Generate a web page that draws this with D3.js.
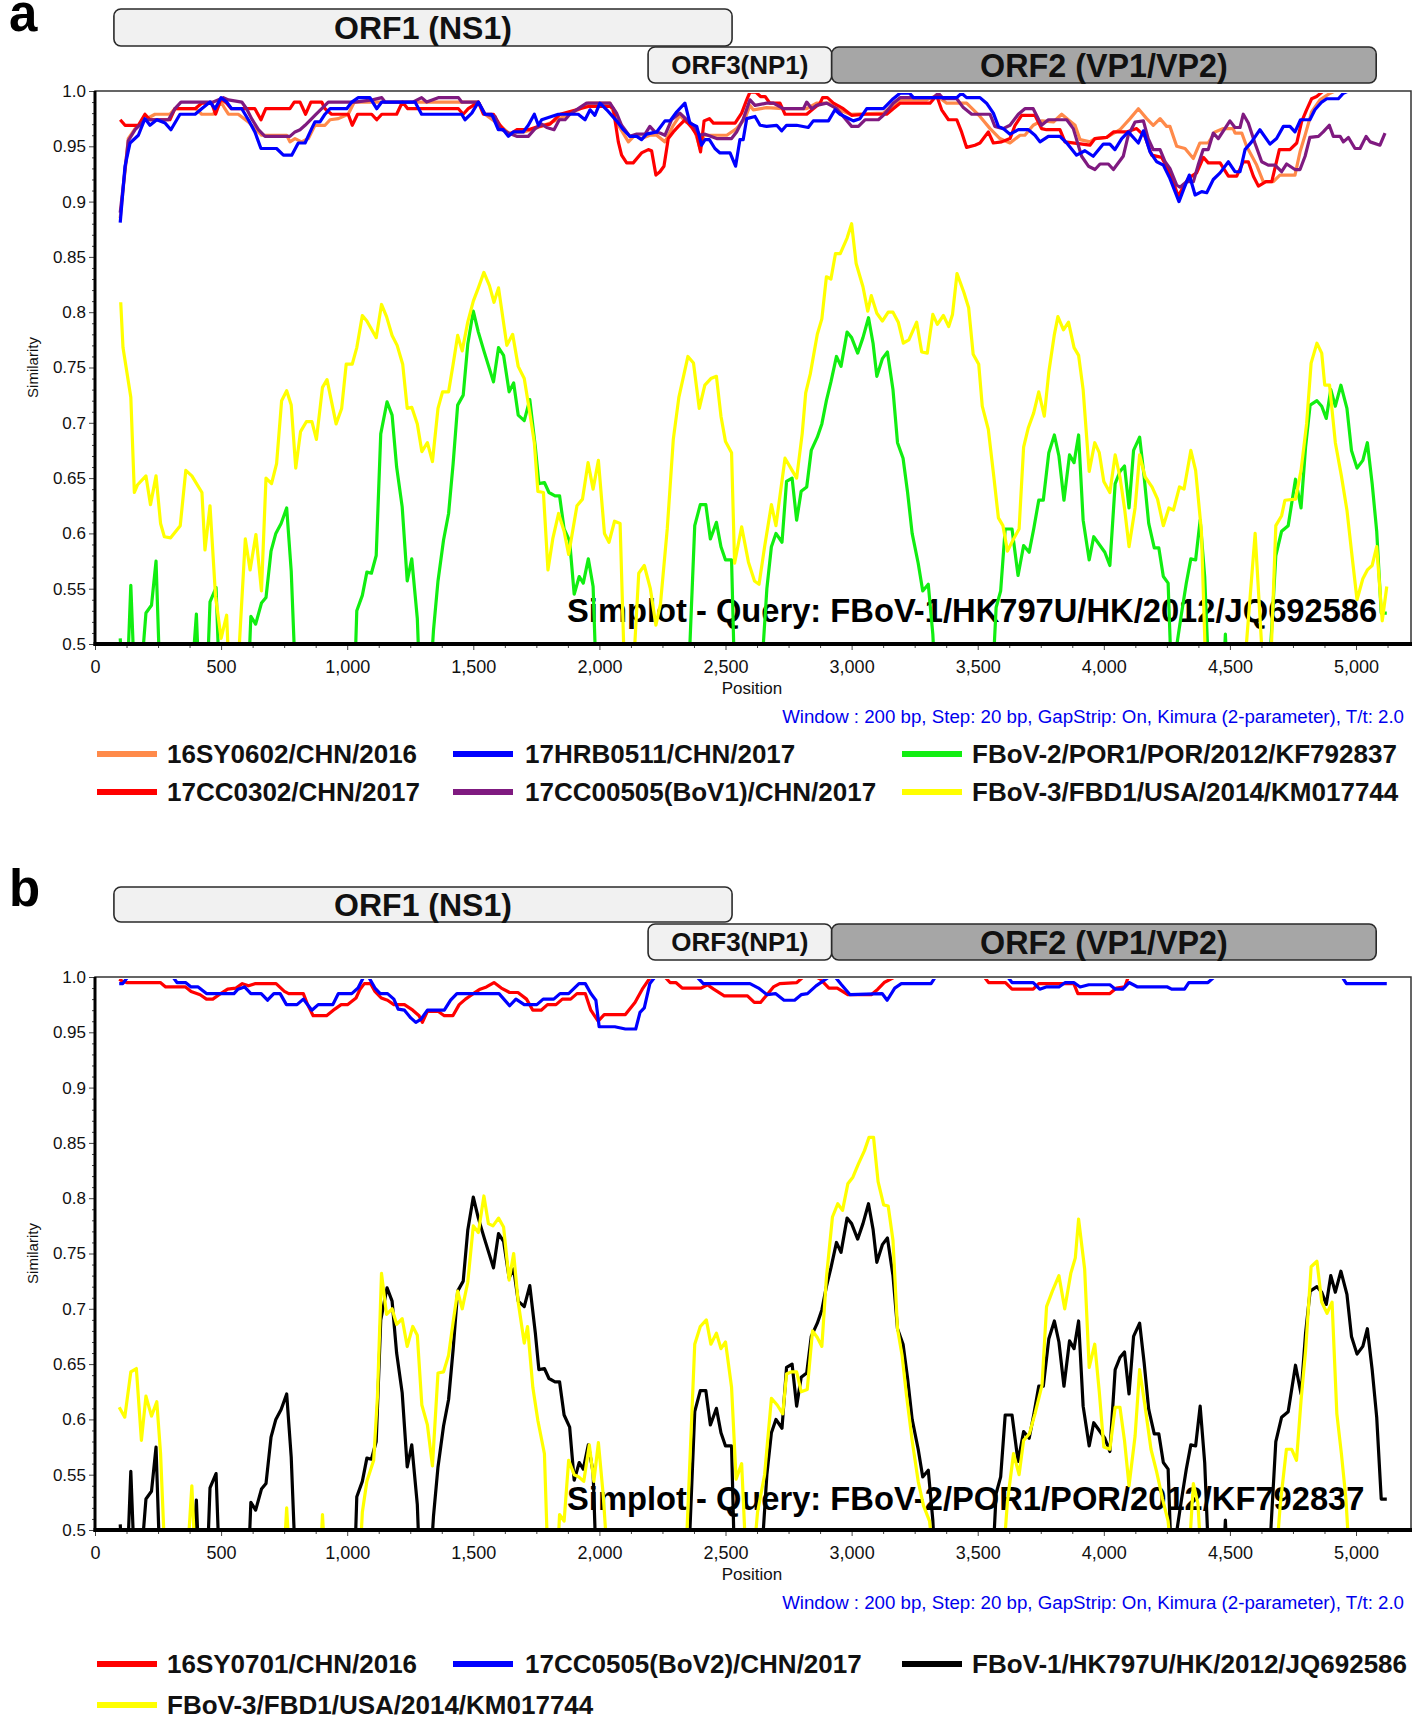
<!DOCTYPE html>
<html><head><meta charset="utf-8">
<script src="https://cdn.jsdelivr.net/npm/d3@7"></script>
<style>body{margin:0;background:#fff}svg{display:block}</style>
</head><body>
<svg id="c" width="1418" height="1721"></svg>
<script>
// ---------------- DATA ----------------
const posTicks = [0,500,1000,1500,2000,2500,3000,3500,4000,4500,5000];
const posLabels = ["0","500","1,000","1,500","2,000","2,500","3,000","3,500","4,000","4,500","5,000"];
const simTicks = [1.0,0.95,0.9,0.85,0.8,0.75,0.7,0.65,0.6,0.55,0.5];
const simLabels = ["1.0","0.95","0.9","0.85","0.8","0.75","0.7","0.65","0.6","0.55","0.5"];

const orfNames = ["ORF1 (NS1)","ORF3(NP1)","ORF2 (VP1/VP2)"];
const orfStart = [75, 2193, 2921];
const orfEnd = [2526, 2921, 5080];
const orfRow = [0, 1, 1];

const queryA = "Simplot - Query: FBoV-1/HK797U/HK/2012/JQ692586";
const queryB = "Simplot - Query: FBoV-2/POR1/POR/2012/KF792837";
const windowNote = "Window : 200 bp, Step: 20 bp, GapStrip: On, Kimura (2-parameter), T/t: 2.0";

const namesA = ["16SY0602/CHN/2016","17CC0302/CHN/2017","17HRB0511/CHN/2017","17CC00505(BoV1)/CHN/2017","FBoV-2/POR1/POR/2012/KF792837","FBoV-3/FBD1/USA/2014/KM017744"];
const namesB = ["16SY0701/CHN/2016","17CC0505(BoV2)/CHN/2017","FBoV-1/HK797U/HK/2012/JQ692586","FBoV-3/FBD1/USA/2014/KM017744"];

// panel a, query FBoV-1
const a_16SY0602 = [[100,0.885],[132,0.957],[159,0.966],[198,0.974],[238,0.979],[297,0.979],[317,0.984],[400,0.984],[423,0.979],[469,0.979],[482,0.984],[500,0.990],[515,0.984],[529,0.979],[568,0.979],[608,0.972],[634,0.966],[661,0.960],[760,0.960],[773,0.954],[793,0.957],[819,0.954],[846,0.957],[872,0.969],[912,0.969],[932,0.974],[965,0.975],[1004,0.979],[1028,0.990],[1269,0.990],[1441,0.990],[1520,0.990],[1546,0.979],[1600,0.970],[1640,0.962],[1700,0.963],[1745,0.966],[1804,0.971],[1923,0.984],[1956,0.989],[2042,0.989],[2075,0.969],[2115,0.954],[2141,0.960],[2167,0.957],[2200,0.960],[2227,0.960],[2260,0.954],[2293,0.969],[2319,0.978],[2343,0.972],[2372,0.969],[2399,0.948],[2415,0.960],[2505,0.960],[2544,0.966],[2577,0.975],[2597,0.987],[2610,0.983],[2663,0.985],[2729,0.984],[2822,0.984],[2861,0.989],[2908,0.989],[2941,0.984],[2994,0.979],[3126,0.980],[3192,0.992],[3298,0.992],[3337,0.996],[3377,0.989],[3456,0.989],[3509,0.977],[3549,0.966],[3588,0.957],[3628,0.953],[3668,0.960],[3687,0.960],[3720,0.969],[3753,0.973],[3800,0.972],[3833,0.979],[3859,0.974],[3886,0.969],[3906,0.956],[3945,0.954],[3965,0.957],[4011,0.958],[4064,0.965],[4104,0.975],[4137,0.984],[4170,0.975],[4196,0.969],[4223,0.975],[4249,0.968],[4262,0.968],[4289,0.950],[4322,0.948],[4355,0.939],[4381,0.953],[4414,0.953],[4441,0.963],[4474,0.966],[4513,0.966],[4520,0.962],[4547,0.962],[4566,0.950],[4606,0.933],[4632,0.918],[4672,0.918],[4698,0.924],[4758,0.924],[4778,0.945],[4798,0.960],[4824,0.981],[4857,0.992],[4897,0.998],[4917,1.0],[5120,1.0]];

const a_17CC0302 = [[100,0.974],[119,0.969],[172,0.969],[198,0.979],[218,0.974],[297,0.974],[317,0.984],[397,0.984],[423,0.989],[463,0.989],[478,0.979],[500,0.993],[522,0.989],[540,0.984],[634,0.984],[658,0.974],[677,0.984],[773,0.984],[790,0.990],[813,0.990],[835,0.979],[856,0.990],[899,0.990],[912,0.984],[938,0.979],[1004,0.979],[1020,0.969],[1041,0.979],[1097,0.979],[1117,0.974],[1137,0.979],[1196,0.979],[1219,0.990],[1240,0.984],[1289,0.984],[1441,0.984],[1460,0.979],[1480,0.984],[1520,0.990],[1540,0.979],[1580,0.979],[1606,0.969],[1639,0.960],[1672,0.965],[1718,0.965],[1760,0.968],[1804,0.970],[1844,0.979],[1923,0.984],[1956,0.986],[2042,0.986],[2055,0.984],[2075,0.954],[2088,0.942],[2108,0.935],[2134,0.935],[2167,0.944],[2194,0.947],[2207,0.946],[2224,0.924],[2240,0.927],[2256,0.932],[2273,0.957],[2293,0.963],[2313,0.968],[2339,0.974],[2366,0.967],[2386,0.960],[2401,0.945],[2415,0.973],[2436,0.975],[2452,0.971],[2538,0.971],[2564,0.980],[2584,0.992],[2597,0.999],[2620,0.999],[2639,0.995],[2657,0.995],[2676,0.989],[2716,0.989],[2736,0.979],[2822,0.979],[2848,0.984],[2875,0.989],[2885,0.994],[2904,0.994],[2928,0.989],[2967,0.984],[3000,0.978],[3053,0.979],[3139,0.979],[3165,0.984],[3192,0.989],[3311,0.989],[3337,0.996],[3357,0.983],[3384,0.974],[3417,0.974],[3436,0.963],[3456,0.949],[3489,0.951],[3509,0.953],[3542,0.963],[3562,0.953],[3595,0.954],[3628,0.957],[3648,0.969],[3674,0.978],[3727,0.978],[3753,0.966],[3773,0.965],[3826,0.965],[3846,0.954],[3945,0.951],[3965,0.957],[4011,0.958],[4038,0.963],[4090,0.963],[4130,0.966],[4163,0.959],[4190,0.942],[4229,0.940],[4262,0.926],[4295,0.905],[4335,0.921],[4368,0.926],[4395,0.940],[4414,0.935],[4461,0.935],[4494,0.923],[4527,0.923],[4553,0.936],[4573,0.936],[4593,0.923],[4613,0.914],[4643,0.918],[4666,0.918],[4696,0.947],[4738,0.947],[4765,0.953],[4784,0.972],[4804,0.983],[4824,0.993],[4844,0.995],[4870,1.0],[5120,1.0]];

const a_17HRB0511 = [[100,0.881],[119,0.932],[139,0.953],[172,0.960],[198,0.975],[218,0.969],[245,0.974],[278,0.971],[301,0.965],[337,0.979],[397,0.979],[423,0.984],[456,0.990],[476,0.984],[500,0.994],[522,0.990],[542,0.984],[582,0.984],[608,0.974],[634,0.963],[658,0.948],[720,0.948],[747,0.942],[780,0.942],[806,0.953],[833,0.953],[859,0.966],[872,0.972],[892,0.972],[912,0.979],[932,0.984],[998,0.984],[1018,0.990],[1044,0.994],[1090,0.994],[1117,0.984],[1137,0.990],[1223,0.990],[1269,0.990],[1295,0.979],[1454,0.979],[1467,0.974],[1494,0.980],[1520,0.990],[1546,0.979],[1573,0.979],[1599,0.965],[1619,0.965],[1639,0.959],[1659,0.963],[1698,0.963],[1718,0.969],[1742,0.979],[1758,0.969],[1771,0.974],[1837,0.979],[1916,0.979],[1943,0.974],[1963,0.983],[1982,0.978],[2002,0.989],[2029,0.983],[2068,0.973],[2095,0.965],[2121,0.959],[2148,0.959],[2167,0.956],[2187,0.961],[2227,0.963],[2260,0.973],[2280,0.973],[2306,0.981],[2339,0.989],[2359,0.971],[2386,0.968],[2405,0.951],[2419,0.956],[2436,0.956],[2458,0.948],[2478,0.944],[2518,0.944],[2540,0.932],[2557,0.956],[2570,0.956],[2584,0.975],[2617,0.977],[2637,0.969],[2663,0.968],[2703,0.969],[2723,0.964],[2742,0.969],[2782,0.969],[2828,0.967],[2848,0.973],[2908,0.973],[2934,0.983],[2954,0.979],[3007,0.973],[3033,0.975],[3060,0.984],[3126,0.984],[3165,0.993],[3192,0.998],[3230,0.998],[3245,0.994],[3417,0.994],[3436,0.998],[3456,0.994],[3509,0.994],[3535,0.989],[3562,0.980],[3582,0.968],[3601,0.966],[3628,0.961],[3661,0.965],[3701,0.965],[3727,0.960],[3747,0.954],[3780,0.959],[3826,0.959],[3853,0.953],[3892,0.942],[3925,0.946],[3958,0.941],[3998,0.952],[4024,0.952],[4044,0.947],[4071,0.957],[4097,0.963],[4137,0.953],[4157,0.964],[4183,0.945],[4210,0.936],[4236,0.933],[4262,0.921],[4298,0.900],[4318,0.912],[4339,0.924],[4362,0.906],[4388,0.909],[4408,0.908],[4434,0.920],[4461,0.926],[4494,0.936],[4520,0.927],[4540,0.927],[4560,0.947],[4586,0.954],[4619,0.965],[4659,0.952],[4685,0.957],[4712,0.968],[4738,0.968],[4758,0.963],[4780,0.974],[4817,0.974],[4837,0.983],[4864,0.990],[4884,0.993],[4930,0.993],[4950,0.998],[4970,1.0],[5120,1.0]];

const a_17CC00505 = [[100,0.89],[132,0.955],[159,0.965],[198,0.974],[291,0.974],[317,0.984],[341,0.990],[430,0.990],[469,0.990],[509,0.994],[529,0.992],[582,0.990],[601,0.984],[621,0.975],[648,0.965],[674,0.959],[773,0.959],[793,0.963],[813,0.965],[833,0.969],[872,0.978],[899,0.984],[925,0.990],[1031,0.990],[1100,0.992],[1137,0.994],[1150,0.990],[1260,0.990],[1295,0.994],[1315,0.990],[1361,0.994],[1441,0.994],[1454,0.990],[1520,0.990],[1546,0.979],[1586,0.977],[1606,0.966],[1639,0.962],[1672,0.959],[1718,0.959],[1745,0.966],[1771,0.970],[1791,0.967],[1820,0.965],[1841,0.974],[1864,0.974],[1883,0.979],[1916,0.984],[1949,0.989],[2042,0.989],[2068,0.980],[2088,0.969],[2121,0.959],[2148,0.961],[2181,0.961],[2200,0.968],[2220,0.963],[2240,0.962],[2260,0.960],[2286,0.974],[2319,0.980],[2346,0.974],[2372,0.969],[2399,0.960],[2419,0.961],[2465,0.957],[2524,0.957],[2544,0.963],[2571,0.975],[2597,0.992],[2617,0.987],[2663,0.989],[2690,0.989],[2729,0.984],[2809,0.984],[2822,0.990],[2842,0.984],[2861,0.987],[2901,0.989],[2941,0.984],[2967,0.977],[3000,0.968],[3027,0.968],[3053,0.974],[3106,0.974],[3126,0.978],[3165,0.989],[3192,0.994],[3324,0.994],[3344,0.998],[3364,0.993],[3417,0.993],[3443,0.985],[3476,0.979],[3549,0.979],[3568,0.968],[3601,0.966],[3628,0.969],[3661,0.979],[3687,0.984],[3720,0.984],[3753,0.969],[3780,0.974],[3853,0.974],[3879,0.966],[3912,0.941],[3939,0.932],[3965,0.929],[3985,0.934],[4018,0.934],[4038,0.929],[4077,0.941],[4097,0.960],[4124,0.972],[4157,0.973],[4176,0.957],[4196,0.947],[4223,0.947],[4243,0.936],[4262,0.930],[4289,0.915],[4302,0.913],[4328,0.918],[4355,0.918],[4374,0.933],[4394,0.947],[4414,0.947],[4434,0.962],[4454,0.957],[4480,0.966],[4500,0.973],[4520,0.967],[4540,0.967],[4553,0.979],[4573,0.971],[4599,0.953],[4626,0.936],[4652,0.933],[4679,0.933],[4705,0.927],[4725,0.934],[4758,0.929],[4778,0.929],[4798,0.941],[4817,0.958],[4851,0.959],[4870,0.963],[4894,0.969],[4910,0.959],[4937,0.959],[4950,0.954],[4970,0.958],[4996,0.948],[5016,0.948],[5040,0.959],[5056,0.954],[5095,0.951],[5115,0.962]];

// FBoV-1 vs FBoV-2 (same pairwise curve in both panels)
const fbov1_fbov2 = [[100,0.505],[110,0.47],[128,0.47],[142,0.553],[156,0.47],[182,0.47],[202,0.528],[224,0.535],[242,0.575],[260,0.45],[378,0.45],[402,0.527],[415,0.45],[442,0.45],[456,0.538],[480,0.551],[496,0.45],[605,0.45],[618,0.525],[637,0.518],[660,0.537],[678,0.542],[698,0.584],[717,0.600],[738,0.609],[760,0.623],[778,0.566],[798,0.45],[1027,0.45],[1038,0.530],[1060,0.544],[1078,0.565],[1096,0.564],[1115,0.580],[1133,0.690],[1158,0.719],[1178,0.707],[1196,0.660],[1218,0.624],[1238,0.557],[1256,0.577],[1278,0.523],[1290,0.45],[1325,0.45],[1342,0.512],[1360,0.557],[1382,0.594],[1402,0.618],[1420,0.663],[1438,0.716],[1460,0.725],[1478,0.771],[1500,0.801],[1520,0.782],[1542,0.765],[1580,0.737],[1600,0.768],[1620,0.761],[1642,0.728],[1660,0.736],[1678,0.707],[1702,0.702],[1724,0.721],[1746,0.678],[1760,0.645],[1782,0.646],[1800,0.637],[1824,0.634],[1842,0.634],[1860,0.604],[1882,0.593],[1900,0.545],[1920,0.561],[1936,0.555],[1956,0.577],[1975,0.552],[1990,0.45],[2350,0.45],[2378,0.607],[2400,0.626],[2422,0.626],[2440,0.595],[2464,0.610],[2482,0.588],[2500,0.576],[2524,0.576],[2538,0.45],[2636,0.45],[2664,0.550],[2682,0.588],[2700,0.600],[2724,0.592],[2742,0.647],[2764,0.650],[2782,0.612],[2800,0.638],[2822,0.642],[2840,0.675],[2864,0.687],[2882,0.699],[2900,0.720],[2918,0.737],[2940,0.760],[2958,0.751],[2982,0.782],[3000,0.777],[3024,0.763],[3045,0.777],[3067,0.795],[3085,0.772],[3100,0.742],[3122,0.758],[3142,0.764],[3164,0.730],[3182,0.682],[3204,0.668],[3222,0.637],[3240,0.600],[3264,0.573],[3282,0.548],[3304,0.554],[3322,0.509],[3335,0.45],[3555,0.45],[3573,0.533],[3591,0.548],[3609,0.604],[3636,0.604],[3660,0.562],[3682,0.589],[3704,0.583],[3722,0.604],[3742,0.630],[3760,0.630],[3782,0.673],[3804,0.689],[3822,0.670],[3842,0.630],[3864,0.671],[3882,0.664],[3900,0.689],[3918,0.612],[3942,0.576],[3960,0.597],[3982,0.590],[4004,0.583],[4024,0.571],[4045,0.645],[4064,0.656],[4082,0.661],[4100,0.623],[4118,0.675],[4142,0.687],[4160,0.651],[4178,0.609],[4200,0.587],[4218,0.587],[4236,0.561],[4255,0.555],[4268,0.47],[4290,0.50],[4307,0.526],[4327,0.555],[4345,0.577],[4364,0.576],[4382,0.612],[4400,0.561],[4420,0.45],[4470,0.45],[4482,0.509],[4494,0.45],[4650,0.45],[4682,0.580],[4705,0.602],[4731,0.607],[4760,0.649],[4782,0.623],[4800,0.678],[4818,0.716],[4845,0.720],[4864,0.715],[4882,0.704],[4900,0.730],[4918,0.715],[4940,0.734],[4964,0.713],[4982,0.675],[5004,0.659],[5027,0.666],[5045,0.682],[5064,0.645],[5082,0.602],[5100,0.528],[5122,0.528]];

const a_FBoV3 = [[102,0.809],[111,0.768],[142,0.723],[156,0.637],[169,0.644],[202,0.652],[220,0.626],[242,0.652],[260,0.609],[275,0.597],[300,0.596],[338,0.607],[360,0.657],[384,0.652],[424,0.637],[436,0.585],[456,0.625],[478,0.543],[500,0.505],[522,0.526],[532,0.47],[565,0.47],[596,0.595],[615,0.567],[638,0.599],[660,0.548],[678,0.650],[700,0.645],[720,0.663],[740,0.720],[760,0.729],[778,0.716],[796,0.659],[815,0.692],[838,0.701],[860,0.701],[878,0.685],[902,0.732],[920,0.739],[956,0.699],[978,0.713],[996,0.753],[1020,0.753],[1038,0.768],[1060,0.797],[1078,0.792],[1115,0.777],[1136,0.807],[1156,0.796],[1178,0.779],[1198,0.770],[1220,0.753],[1238,0.713],[1256,0.714],[1278,0.699],[1296,0.674],[1318,0.682],[1338,0.665],[1360,0.713],[1378,0.728],[1402,0.728],[1420,0.753],[1438,0.779],[1456,0.765],[1478,0.791],[1500,0.810],[1520,0.822],[1542,0.836],[1564,0.824],[1582,0.809],[1600,0.822],[1633,0.770],[1656,0.780],[1678,0.751],[1702,0.740],[1724,0.709],[1742,0.682],[1756,0.638],[1778,0.637],[1796,0.567],[1815,0.595],[1838,0.618],[1860,0.602],[1878,0.581],[1911,0.625],[1933,0.631],[1955,0.664],[1975,0.640],[1996,0.666],[2020,0.600],[2038,0.592],[2060,0.611],[2082,0.609],[2100,0.47],[2133,0.47],[2156,0.564],[2178,0.571],[2202,0.550],[2224,0.517],[2242,0.536],[2269,0.604],[2293,0.685],[2315,0.723],[2351,0.760],[2373,0.754],[2396,0.713],[2418,0.734],[2442,0.740],[2464,0.742],[2482,0.706],[2500,0.683],[2524,0.673],[2536,0.573],[2564,0.606],[2591,0.574],[2615,0.557],[2633,0.554],[2655,0.588],[2682,0.626],[2700,0.607],[2736,0.668],[2764,0.657],[2782,0.650],[2804,0.690],[2818,0.727],[2836,0.744],[2864,0.780],[2882,0.794],[2900,0.832],[2918,0.830],[2936,0.853],[2955,0.853],[2982,0.867],[3000,0.880],[3018,0.844],[3045,0.823],[3064,0.801],[3078,0.815],[3100,0.799],[3122,0.792],[3145,0.800],[3164,0.800],[3185,0.791],[3205,0.772],[3227,0.775],[3258,0.791],[3278,0.764],[3300,0.763],[3322,0.798],[3340,0.789],[3364,0.797],[3385,0.787],[3400,0.798],[3418,0.835],[3445,0.818],[3464,0.804],[3482,0.762],[3504,0.753],[3518,0.715],[3542,0.694],[3564,0.651],[3582,0.614],[3600,0.607],[3618,0.584],[3642,0.595],[3664,0.604],[3682,0.678],[3700,0.695],[3722,0.709],[3742,0.728],[3764,0.706],[3782,0.746],[3804,0.780],[3818,0.796],[3840,0.784],[3860,0.791],[3882,0.768],[3900,0.761],[3918,0.730],[3942,0.656],[3964,0.682],[3982,0.673],[4000,0.647],[4024,0.637],[4045,0.671],[4064,0.651],[4082,0.623],[4100,0.588],[4124,0.623],[4142,0.671],[4164,0.651],[4191,0.642],[4213,0.631],[4236,0.607],[4258,0.623],[4276,0.621],[4300,0.642],[4318,0.640],[4345,0.675],[4364,0.657],[4387,0.602],[4405,0.47],[4555,0.47],[4600,0.600],[4633,0.47],[4660,0.47],[4682,0.607],[4705,0.616],[4718,0.630],[4760,0.631],[4782,0.657],[4804,0.699],[4822,0.754],[4845,0.772],[4864,0.763],[4876,0.734],[4895,0.734],[4918,0.682],[4942,0.652],[4964,0.621],[4985,0.578],[5004,0.540],[5027,0.559],[5045,0.567],[5064,0.571],[5082,0.588],[5104,0.521],[5122,0.552]];

// panel b, query FBoV-2
const b_16SY0701 = [[96,0.998],[110,0.996],[125,0.995],[259,0.995],[280,0.991],[359,0.991],[381,0.987],[417,0.984],[442,0.980],[467,0.980],[492,0.984],[526,0.989],[559,0.990],[584,0.994],[609,0.992],[634,0.994],[718,0.994],[751,0.987],[768,0.985],[826,0.985],[843,0.975],[865,0.965],[918,0.965],[951,0.971],[976,0.975],[1001,0.975],[1035,0.981],[1051,0.989],[1068,0.994],[1093,0.994],[1110,0.987],[1135,0.981],[1160,0.979],[1185,0.975],[1227,0.975],[1260,0.970],[1285,0.965],[1298,0.959],[1318,0.969],[1360,0.969],[1385,0.965],[1419,0.965],[1444,0.975],[1469,0.980],[1494,0.984],[1527,0.989],[1552,0.991],[1582,0.995],[1611,0.990],[1644,0.986],[1677,0.986],[1711,0.980],[1736,0.970],[1769,0.970],[1794,0.975],[1828,0.975],[1853,0.980],[1886,0.980],[1911,0.985],[1944,0.985],[1966,0.970],[1995,0.960],[2019,0.966],[2103,0.966],[2141,0.977],[2170,0.989],[2203,1.0],[2260,1.0],[2280,0.995],[2303,0.995],[2328,0.990],[2403,0.990],[2428,0.993],[2453,0.989],[2495,0.983],[2587,0.983],[2614,0.977],[2639,0.977],[2690,0.991],[2715,0.994],[2783,0.995],[2808,1.0],[2860,1.0],[2876,0.998],[2910,0.990],[2943,0.990],[2985,0.984],[3078,0.984],[3104,0.989],[3129,0.995],[3171,1.0],[3526,1.0],[3543,0.995],[3610,0.995],[3636,0.989],[3720,0.989],[3742,0.994],[3881,0.994],[3897,0.985],[4024,0.985],[4050,0.990],[4083,0.991],[4097,1.0],[5120,1.0]];

const b_17CC0505 = [[96,0.994],[110,0.994],[130,1.0],[309,1.0],[325,0.995],[359,0.995],[381,0.991],[409,0.991],[442,0.985],[551,0.985],[567,0.989],[593,0.991],[618,0.985],[659,0.985],[684,0.979],[709,0.985],[734,0.985],[759,0.975],[801,0.975],[826,0.980],[860,0.970],[885,0.975],[943,0.975],[965,0.985],[1018,0.985],[1043,0.990],[1065,1.0],[1085,1.0],[1110,0.990],[1131,0.985],[1160,0.985],[1185,0.980],[1202,0.971],[1227,0.970],[1252,0.963],[1272,0.959],[1293,0.962],[1318,0.970],[1385,0.970],[1410,0.979],[1435,0.985],[1602,0.985],[1644,0.974],[1669,0.980],[1702,0.975],[1752,0.975],[1777,0.980],[1819,0.980],[1844,0.985],[1878,0.985],[1919,0.994],[1944,0.994],[1966,0.985],[1986,0.979],[1999,0.955],[2061,0.955],[2103,0.953],[2144,0.953],[2161,0.968],[2178,0.972],[2200,0.994],[2220,1.0],[2387,1.0],[2412,0.994],[2597,0.994],[2631,0.990],[2665,0.984],[2698,0.985],[2732,0.979],[2774,0.979],[2800,0.984],[2825,0.985],[2859,0.992],[2910,1.0],[2935,1.0],[2960,0.993],[2994,0.984],[3121,0.985],[3141,0.979],[3171,0.990],[3197,0.994],[3315,0.994],[3332,1.0],[3619,1.0],[3636,0.995],[3720,0.995],[3746,0.989],[3771,0.991],[3822,0.991],[3847,0.995],[3881,0.995],[3906,0.991],[3940,0.993],[4024,0.993],[4046,0.989],[4075,0.989],[4100,0.995],[4134,0.991],[4252,0.991],[4269,0.989],[4320,0.989],[4337,0.995],[4413,0.995],[4438,1.0],[4945,1.0],[4962,0.994],[5122,0.994]];

const b_FBoV3 = [[96,0.611],[118,0.602],[142,0.643],[164,0.646],[184,0.581],[202,0.621],[224,0.603],[245,0.616],[260,0.569],[278,0.47],[365,0.47],[384,0.540],[398,0.47],[748,0.47],[760,0.520],[772,0.47],[893,0.47],[902,0.514],[912,0.47],[1050,0.47],[1060,0.516],[1078,0.544],[1105,0.563],[1120,0.621],[1136,0.732],[1156,0.695],[1178,0.700],[1196,0.686],[1218,0.691],[1238,0.666],[1260,0.684],[1278,0.676],[1296,0.613],[1318,0.595],[1338,0.558],[1360,0.642],[1382,0.643],[1402,0.658],[1420,0.688],[1438,0.716],[1456,0.700],[1478,0.724],[1500,0.775],[1520,0.769],[1542,0.802],[1560,0.777],[1578,0.775],[1600,0.782],[1620,0.774],[1642,0.726],[1660,0.750],[1678,0.706],[1702,0.669],[1715,0.684],[1736,0.629],[1756,0.599],[1782,0.569],[1796,0.47],[1833,0.47],[1842,0.514],[1860,0.508],[1878,0.563],[1900,0.550],[1918,0.548],[1938,0.544],[1960,0.577],[1978,0.544],[1996,0.579],[2015,0.532],[2033,0.47],[2342,0.47],[2378,0.668],[2400,0.684],[2424,0.690],[2442,0.668],[2464,0.678],[2482,0.664],[2500,0.670],[2524,0.629],[2542,0.546],[2564,0.560],[2582,0.47],[2609,0.47],[2627,0.516],[2655,0.550],[2682,0.619],[2705,0.613],[2727,0.605],[2742,0.641],[2760,0.643],[2782,0.643],[2800,0.625],[2824,0.627],[2845,0.680],[2864,0.674],[2882,0.666],[2900,0.728],[2924,0.783],[2945,0.795],[2964,0.789],[2985,0.813],[3005,0.819],[3027,0.831],[3051,0.843],[3069,0.855],[3087,0.855],[3105,0.815],[3127,0.794],[3145,0.793],[3164,0.762],[3182,0.682],[3200,0.658],[3218,0.621],[3240,0.581],[3264,0.544],[3285,0.522],[3309,0.508],[3327,0.47],[3600,0.47],[3618,0.526],[3642,0.569],[3664,0.550],[3682,0.581],[3705,0.587],[3727,0.605],[3755,0.631],[3773,0.702],[3796,0.716],[3822,0.730],[3845,0.700],[3869,0.732],[3887,0.746],[3900,0.781],[3924,0.736],[3942,0.647],[3964,0.668],[3982,0.625],[4000,0.575],[4024,0.573],[4045,0.611],[4064,0.611],[4082,0.581],[4100,0.540],[4124,0.585],[4142,0.645],[4164,0.611],[4187,0.573],[4209,0.553],[4233,0.528],[4255,0.508],[4270,0.47],[4336,0.47],[4355,0.542],[4373,0.524],[4387,0.47],[4682,0.47],[4700,0.524],[4724,0.573],[4745,0.573],[4764,0.563],[4782,0.617],[4800,0.662],[4822,0.738],[4845,0.743],[4864,0.706],[4885,0.696],[4905,0.706],[4924,0.605],[4942,0.569],[4960,0.528],[4975,0.47]];

// ---------------- DRAWING ----------------
const FONT = "'Liberation Sans', Arial, Helvetica, sans-serif";
const svg = d3.select("#c");
const x = d3.scaleLinear().domain([0, 5218]).range([95, 1411]);

const orfFill = ["#f1f1f1", "#f1f1f1", "#a6a6a6"];
const orfFont = [32, 26, 32.3];

const panels = [
  { id: "a", letterY: 31, box1: [9, 37], box2: [47, 36], top: 91, bottom: 644,
    query: queryA, queryY: 622,
    series: [
      {d: a_16SY0602, c: "#ff8a4a"}, {d: a_17CC0302, c: "#ff0000"},
      {d: a_17CC00505, c: "#7f1a80"}, {d: a_17HRB0511, c: "#0000ff"},
      {d: fbov1_fbov2, c: "#11ee11"}, {d: a_FBoV3, c: "#ffff00"}],
    legend: [
      {n: namesA[0], c: "#ff8a4a", col: 0, row: 0}, {n: namesA[2], c: "#0000ff", col: 1, row: 0},
      {n: namesA[4], c: "#11ee11", col: 2, row: 0}, {n: namesA[1], c: "#ff0000", col: 0, row: 1},
      {n: namesA[3], c: "#7f1a80", col: 1, row: 1}, {n: namesA[5], c: "#ffff00", col: 2, row: 1}],
    legendRows: [754, 792] },
  { id: "b", letterY: 906, box1: [887, 35], box2: [924, 36], top: 977, bottom: 1530,
    query: queryB, queryY: 1510,
    series: [
      {d: b_16SY0701, c: "#ff0000"}, {d: b_17CC0505, c: "#0000ff"},
      {d: fbov1_fbov2, c: "#000000"}, {d: b_FBoV3, c: "#ffff00"}],
    legend: [
      {n: namesB[0], c: "#ff0000", col: 0, row: 0}, {n: namesB[1], c: "#0000ff", col: 1, row: 0},
      {n: namesB[2], c: "#000000", col: 2, row: 0}, {n: namesB[3], c: "#ffff00", col: 0, row: 1}],
    legendRows: [1664, 1705] }
];

const legLineX = [97, 453, 902];
const legTextX = [167, 525, 972];

panels.forEach((p, pi) => {
  const y = d3.scaleLinear().domain([0.5, 1.0]).range([p.bottom, p.top]);
  const g = svg.append("g");

  g.append("text").attr("x", 9).attr("y", p.letterY).text(p.id)
    .attr("font-family", FONT).attr("font-weight", "bold").attr("font-size", 51);

  // ORF boxes
  orfNames.forEach((name, i) => {
    const bx = orfRow[i] === 0 ? p.box1 : p.box2;
    const x0 = x(orfStart[i]), x1 = x(orfEnd[i]);
    g.append("rect").attr("x", x0).attr("y", bx[0]).attr("width", x1 - x0).attr("height", bx[1])
      .attr("rx", 7).attr("fill", orfFill[i]).attr("stroke", "#2a2a2a").attr("stroke-width", 1.6);
    g.append("text").attr("x", (x0 + x1) / 2).attr("y", bx[0] + bx[1] / 2 + orfFont[i] * 0.36)
      .attr("text-anchor", "middle").attr("font-family", FONT).attr("font-weight", "bold")
      .attr("font-size", orfFont[i]).attr("fill", "#111").text(name);
  });

  // plot frame (top/right)
  g.append("rect").attr("x", 95).attr("y", p.top).attr("width", 1411 - 95).attr("height", p.bottom - p.top)
    .attr("fill", "#fff").attr("stroke", "#333").attr("stroke-width", 1.5);

  // query text
  g.append("text").attr("x", 567).attr("y", p.queryY).text(p.query)
    .attr("font-family", FONT).attr("font-weight", "bold").attr("font-size", 32.7).attr("fill", "#000");

  // clip
  const cid = "clip" + pi;
  svg.append("clipPath").attr("id", cid).append("rect")
    .attr("x", 95).attr("y", p.top + 2).attr("width", 1411 - 95).attr("height", p.bottom - p.top - 2);

  const line = d3.line().x(d => x(d[0])).y(d => y(d[1]));
  const lg = g.append("g").attr("clip-path", `url(#${cid})`);
  p.series.forEach(s => {
    lg.append("path").attr("d", line(s.d)).attr("fill", "none").attr("stroke", s.c)
      .attr("stroke-width", 3.2).attr("stroke-linejoin", "round").attr("stroke-linecap", "butt");
  });

  // y axis
  const minorY = d3.range(50, 101).map(v => v / 100).filter(v => Math.round(v * 100) % 5 !== 0);
  const yMinor = g.append("g").attr("transform", "translate(95,0)")
    .call(d3.axisLeft(y).tickValues(minorY).tickSize(3).tickFormat(""));
  const yAx = g.append("g").attr("transform", "translate(95,0)")
    .call(d3.axisLeft(y).tickValues(simTicks).tickSize(6).tickPadding(3)
      .tickFormat((d, i) => simLabels[i]));
  [yMinor, yAx].forEach(a => {
    a.select(".domain").remove();
    a.selectAll(".tick line").attr("stroke", "#444").attr("stroke-width", 1);
  });
  yAx.selectAll("text").attr("font-family", FONT).attr("font-size", 17).attr("fill", "#111");

  // x axis
  const minorX = d3.range(0, 5201, 125).filter(v => v % 500 !== 0);
  const xMinor = g.append("g").attr("transform", `translate(0,${p.bottom})`)
    .call(d3.axisBottom(x).tickValues(minorX).tickSize(4).tickFormat(""));
  const xAx = g.append("g").attr("transform", `translate(0,${p.bottom})`)
    .call(d3.axisBottom(x).tickValues(posTicks).tickSize(6).tickPadding(10)
      .tickFormat((d, i) => posLabels[i]));
  [xMinor, xAx].forEach(a => {
    a.select(".domain").remove();
    a.selectAll(".tick line").attr("stroke", "#444").attr("stroke-width", 1);
  });
  xAx.selectAll("text").attr("font-family", FONT).attr("font-size", 18).attr("fill", "#111");

  // thick axis lines
  g.append("line").attr("x1", 95).attr("x2", 95).attr("y1", p.top).attr("y2", p.bottom + 2)
    .attr("stroke", "#000").attr("stroke-width", 3);
  g.append("line").attr("x1", 93.5).attr("x2", 1412).attr("y1", p.bottom).attr("y2", p.bottom)
    .attr("stroke", "#000").attr("stroke-width", 4);

  // axis titles
  const midY = (p.top + p.bottom) / 2;
  g.append("text").attr("transform", `translate(38,${midY}) rotate(-90)`).attr("text-anchor", "middle")
    .attr("font-family", FONT).attr("font-size", 15).attr("fill", "#111").text("Similarity");
  g.append("text").attr("x", (95 + 1411) / 2 - 1).attr("y", p.bottom + 50).attr("text-anchor", "middle")
    .attr("font-family", FONT).attr("font-size", 17).attr("fill", "#111").text("Position");
  g.append("text").attr("x", 1404).attr("y", p.bottom + 79).attr("text-anchor", "end")
    .attr("font-family", FONT).attr("font-size", 18.7).attr("fill", "#0000ee").text(windowNote);

  // legend
  p.legend.forEach(e => {
    const cy = p.legendRows[e.row];
    g.append("line").attr("x1", legLineX[e.col]).attr("x2", legLineX[e.col] + 60)
      .attr("y1", cy).attr("y2", cy).attr("stroke", e.c).attr("stroke-width", 6);
    g.append("text").attr("x", legTextX[e.col]).attr("y", cy + 9).text(e.n)
      .attr("font-family", FONT).attr("font-weight", "bold").attr("font-size", 26).attr("fill", "#111");
  });
});
</script>
</body></html>
